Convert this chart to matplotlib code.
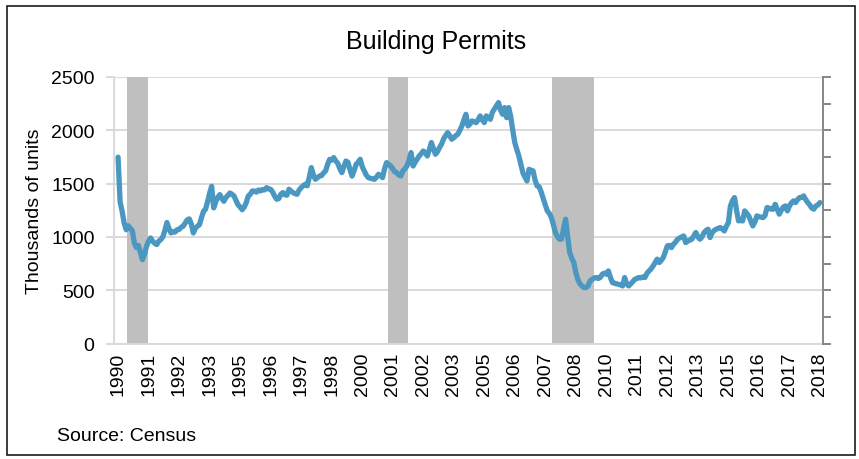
import matplotlib
matplotlib.use("Agg")
import matplotlib.pyplot as plt
import matplotlib.patches as mpatches
import pandas as pd

# ---------------- data (thousands of units, monthly from Jan 1990) ----------------
start_month = "1990-01"
permits = [
    1748, 1329, 1240, 1130, 1067, 1105, 1080, 1060, 944, 900, 920, 850,          # 1990
    787, 840, 912, 960, 990, 960, 940, 928, 960, 975, 1000, 1060,                 # 1991
    1135, 1080, 1037, 1050, 1045, 1068, 1070, 1090, 1100, 1130, 1160, 1169,       # 1992
    1120, 1037, 1080, 1100, 1115, 1180, 1240, 1260, 1330, 1410, 1475, 1272,       # 1993
    1330, 1370, 1397, 1360, 1334, 1370, 1390, 1412, 1400, 1384, 1340, 1300,       # 1994
    1280, 1255, 1280, 1320, 1384, 1400, 1431, 1430, 1420, 1440, 1431, 1445,       # 1995
    1440, 1462, 1450, 1447, 1420, 1380, 1353, 1360, 1400, 1416, 1395, 1391,       # 1996
    1447, 1430, 1415, 1405, 1400, 1440, 1462, 1480, 1494, 1480, 1560, 1650,       # 1997
    1580, 1540, 1555, 1571, 1575, 1600, 1619, 1680, 1728, 1720, 1744, 1712,       # 1998
    1690, 1640, 1603, 1660, 1712, 1700, 1630, 1571, 1620, 1681, 1700, 1728,       # 1999
    1660, 1619, 1580, 1556, 1550, 1545, 1540, 1560, 1587, 1575, 1556, 1640,       # 2000
    1697, 1680, 1665, 1640, 1610, 1603, 1580, 1571, 1619, 1640, 1665, 1720,       # 2001
    1791, 1665, 1700, 1730, 1759, 1780, 1806, 1790, 1759, 1820, 1885, 1830,       # 2002
    1775, 1800, 1838, 1870, 1920, 1950, 1978, 1950, 1916, 1930, 1950, 1963,       # 2003
    2000, 2041, 2100, 2150, 2041, 2060, 2088, 2080, 2072, 2100, 2135, 2100,       # 2004
    2072, 2135, 2120, 2103, 2170, 2200, 2230, 2260, 2190, 2150, 2213, 2119,       # 2005
    2213, 2130, 2000, 1885, 1820, 1760, 1680, 1600, 1560, 1525, 1634, 1625,       # 2006
    1619, 1530, 1478, 1470, 1420, 1360, 1300, 1244, 1220, 1181, 1110, 1041,       # 2007
    1000, 978, 980, 1080, 1166, 1000, 853, 800, 760, 666, 600, 560,               # 2008
    540, 525, 525, 540, 587, 600, 615, 619, 610, 619, 650, 660,                   # 2009
    650, 681, 620, 572, 565, 560, 556, 550, 540, 619, 560, 540,                   # 2010
    560, 580, 603, 610, 619, 615, 625, 619, 660, 681, 700, 728,                   # 2011
    760, 791, 759, 780, 807, 860, 916, 920, 900, 931, 950, 978,                   # 2012
    990, 1000, 1009, 947, 960, 970, 978, 1010, 1041, 1000, 978, 1000,             # 2013
    1040, 1060, 1072, 994, 1040, 1060, 1072, 1080, 1088, 1075, 1056, 1100,        # 2014
    1135, 1291, 1340, 1369, 1250, 1150, 1155, 1150, 1244, 1220, 1197, 1150,       # 2015
    1103, 1140, 1197, 1190, 1185, 1181, 1200, 1275, 1270, 1260, 1260, 1306,       # 2016
    1260, 1213, 1250, 1280, 1291, 1244, 1290, 1320, 1338, 1322, 1350, 1369,       # 2017
    1370, 1385, 1350, 1322, 1300, 1270, 1260, 1291, 1300, 1322,                   # 2018
]
recessions = [("1990-07", "1991-03"), ("2001-03", "2001-11"), ("2007-12", "2009-06")]
label_every = 15  # months between category labels
title = "Building Permits"
ylabel = "Thousands of units"
source = "Source: Census"
y_ticks = [0, 500, 1000, 1500, 2000, 2500]

# ---------------- drawing ----------------
plt.rcParams["font.family"] = ["Liberation Sans", "DejaVu Sans"]

months = pd.date_range(start_month, periods=len(permits), freq="MS")
idx = list(range(len(permits)))

W, H = 859, 460
fig = plt.figure(figsize=(W / 100, H / 100), dpi=100)
fig.patch.set_facecolor("white")

ax = fig.add_axes([114 / W, 1 - 344.5 / H, (823 - 114) / W, (344.5 - 78) / H])
ax.set_facecolor("white")

# recession shading
for s, e in recessions:
    si = months.get_loc(pd.Timestamp(s))
    ei = months.get_loc(pd.Timestamp(e))
    ax.axvspan(si - 1.5, ei + 0.75, color="#BFBFBF", lw=0, zorder=1)

ax.plot(idx, permits, color="#4A98C2", lw=3.8, solid_joinstyle="round",
        solid_capstyle="round", zorder=3)

ax.set_ylim(0, 2500)
ax.set_xlim(-2, len(permits) + 0.5)
ax.set_yticks(y_ticks)
ax.set_yticklabels([str(v) for v in y_ticks])
ax.grid(axis="y", color="#D9D9D9", lw=1.4, zorder=0)
ax.set_axisbelow(True)

tick_pos = idx[::label_every]
ax.set_xticks(tick_pos)
ax.set_xticklabels([str(months[i].year) for i in tick_pos], rotation=90)
ax.tick_params(axis="x", length=0, pad=6, labelsize=14)
ax.tick_params(axis="y", length=6, width=1.4, color="#D9D9D9", pad=8, labelsize=14)

ax.spines["top"].set_visible(False)
ax.spines["right"].set_visible(False)
ax.spines["left"].set_color("#D9D9D9")
ax.spines["left"].set_linewidth(1.4)
ax.spines["bottom"].set_color("#D9D9D9")
ax.spines["bottom"].set_linewidth(1.4)

ax.set_ylabel(ylabel, fontsize=14, labelpad=6)

# secondary axis (recession scale) on the right: ticks only
ax2 = ax.twinx()
ax2.set_ylim(0, 1)
ax2.set_yticks([i / 10 for i in range(11)])
ax2.set_yticklabels([])
ax2.tick_params(axis="y", length=6, width=1.4, color="#868686")
for side in ("top", "left", "bottom"):
    ax2.spines[side].set_visible(False)
ax2.spines["right"].set_color("#868686")
ax2.spines["right"].set_linewidth(1.4)

fig.text(436 / W, 1 - 42 / H, title, ha="center", va="center", fontsize=18)
fig.text(57 / W, 1 - 437 / H, source, ha="left", va="center", fontsize=14)

# outer chart border
fig.patches.append(mpatches.Rectangle((7 / W, 1 - 456 / H), (855 - 7) / W, (456 - 7) / H,
                                      transform=fig.transFigure, fill=False,
                                      edgecolor="#1a1a1a", lw=1.2))

fig.savefig("out.png", dpi=100, facecolor="white")
